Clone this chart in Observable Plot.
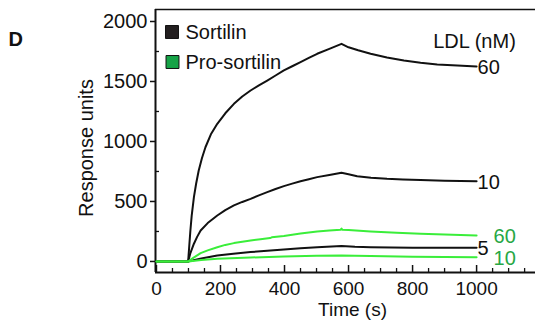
<!DOCTYPE html>
<html><head><meta charset="utf-8">
<script src="https://cdn.jsdelivr.net/npm/d3@7"></script>
<script src="https://cdn.jsdelivr.net/npm/@observablehq/plot@0.6"></script>
<style>body{margin:0;background:#fff}</style>
</head><body><div id="chart"></div>
<script>
// ---- data ----
const sortilin60T = [0, 99, 103, 106, 110, 117, 124, 132, 142, 153, 170, 190, 215, 242, 268, 294, 320, 346, 372, 398, 424, 450, 476, 502, 540, 578, 600, 630, 669, 720, 773, 825, 877, 940, 1000];
const sortilin60V = [0, 0, 150, 258, 380, 536, 650, 758, 860, 952, 1060, 1147, 1235, 1314, 1375, 1425, 1468, 1508, 1550, 1592, 1627, 1661, 1696, 1731, 1772, 1814, 1785, 1760, 1731, 1700, 1675, 1656, 1642, 1633, 1625];
const sortilin10T = [0, 99, 106, 117, 127, 138, 160, 190, 215, 242, 268, 294, 320, 346, 372, 398, 424, 450, 476, 502, 540, 578, 600, 627, 670, 720, 770, 825, 900, 1000];
const sortilin10V = [0, 0, 70, 148, 205, 258, 320, 383, 428, 467, 496, 522, 551, 578, 604, 628, 649, 669, 686, 703, 721, 739, 727, 711, 698, 689, 683, 678, 673, 668];
const sortilin5T = [0, 99, 140, 190, 240, 294, 346, 398, 450, 502, 578, 620, 669, 800, 1000];
const sortilin5V = [0, 0, 25, 50, 65, 78, 90, 100, 110, 119, 128, 122, 118, 115, 114];
const pro60T = [0, 99, 115, 138, 160, 190, 215, 242, 268, 294, 325, 355, 360, 398, 450, 502, 540, 575, 578, 581, 600, 669, 750, 825, 900, 1000];
const pro60V = [0, 0, 30, 69, 92, 119, 138, 153, 165, 175, 186, 195, 201, 213, 233, 250, 258, 264, 274, 264, 262, 250, 240, 231, 224, 217];
const pro10T = [0, 99, 140, 190, 294, 398, 500, 578, 620, 669, 800, 1000];
const pro10V = [0, 0, 12, 22, 33, 42, 47, 50, 47, 45, 40, 36];

const proteins = ["Sortilin", "Pro-sortilin"];
const series = [
  {protein: "Sortilin", ldl: "60", t: sortilin60T, v: sortilin60V},
  {protein: "Sortilin", ldl: "10", t: sortilin10T, v: sortilin10V},
  {protein: "Sortilin", ldl: "5", t: sortilin5T, v: sortilin5V},
  {protein: "Pro-sortilin", ldl: "60", t: pro60T, v: pro60V},
  {protein: "Pro-sortilin", ldl: "10", t: pro10T, v: pro10V}
];
const xMajor = [0, 200, 400, 600, 800, 1000];
const xMinor = d3.range(50, 1200, 50).filter(d => d % 200 !== 0);
const yMajor = [0, 500, 1000, 1500, 2000];
const yMinor = [250, 750, 1250, 1750];

// ---- build table ----
const rows = series.flatMap(s => s.t.map((t, i) => ({protein: s.protein, ldl: s.ldl, key: s.protein + s.ldl, t, v: s.v[i]})));
const ends = series.map(s => ({protein: s.protein, ldl: s.ldl, t: s.t[s.t.length - 1], v: s.v[s.v.length - 1]}));

const W = 535, H = 321, mL = 155, mR = 0, mT = 9, mB = 49;
const fw = W - mL - mR, fh = H - mT - mB;
const xDom = [-3, 1184], yDom = [-92, 2100];
const lineColor = {"Sortilin": "#111111", "Pro-sortilin": "#3aee3a"};
const labelColor = {"Sortilin": "#111111", "Pro-sortilin": "#27a745"};
const legendFill = {"Sortilin": "#231f20", "Pro-sortilin": "#16a347"};
const font = 20;

const chart = Plot.plot({
  width: W, height: H,
  marginLeft: mL, marginRight: mR, marginTop: mT, marginBottom: mB,
  style: {fontFamily: "'Liberation Sans', Arial, sans-serif", fontSize: font + "px", color: "#111", background: "#fff"},
  x: {domain: xDom},
  y: {domain: yDom},
  marks: [
    Plot.ruleY([yDom[0]], {stroke: "#111", strokeWidth: 2}),
    Plot.ruleY([yDom[1]], {stroke: "#111", strokeWidth: 1.6}),
    Plot.ruleX([xDom[0]], {stroke: "#111", strokeWidth: 2}),
    Plot.tickX(xMajor, {x: d => d, insetTop: fh - 7, stroke: "#111", strokeWidth: 1.5}),
    Plot.tickX(xMinor, {x: d => d, insetTop: fh - 4, stroke: "#111", strokeWidth: 1.3}),
    Plot.tickY(yMinor, {y: d => d, insetRight: fw - 4, stroke: "#111", strokeWidth: 1.3}),
    Plot.axisY({ticks: yMajor, tickSize: 5, tickPadding: 3, fontSize: font, label: null, tickFormat: d => String(d), strokeWidth: 1.5, color: "#111"}),
    Plot.axisX({ticks: xMajor, tickSize: 0, tickPadding: 8.5, fontSize: 19, label: null, tickFormat: d => String(d), color: "#111"}),
    Plot.line(rows, {x: "t", y: "v", z: "key", stroke: d => lineColor[d.protein], strokeWidth: 2}),
    Plot.text(ends.filter(d => d.protein === "Sortilin"), {x: "t", y: "v", text: "ldl", textAnchor: "start", dx: 1, dy: 1, fill: d => labelColor[d.protein], fontSize: font}),
    Plot.text(ends.filter(d => d.protein === "Pro-sortilin"), {x: "t", y: "v", text: "ldl", textAnchor: "start", dx: 17, dy: 1, fill: d => labelColor[d.protein], fontSize: font}),
    // legend
    Plot.dot([proteins[0]], {frameAnchor: "top-left", dx: 16.5, dy: 22.5, symbol: "square", r: 7.3, fill: d => legendFill[d], stroke: "#111", strokeWidth: 1}),
    Plot.dot([proteins[1]], {frameAnchor: "top-left", dx: 17, dy: 52.5, symbol: "square", r: 7.3, fill: d => legendFill[d], stroke: "#111", strokeWidth: 1}),
    Plot.text([proteins[0]], {frameAnchor: "top-left", dx: 30, dy: 22.6, text: d => d, textAnchor: "start", lineAnchor: "middle", fontSize: font, fill: "#111"}),
    Plot.text([proteins[1]], {frameAnchor: "top-left", dx: 30, dy: 52.6, text: d => d, textAnchor: "start", lineAnchor: "middle", fontSize: font, fill: "#111"}),
    Plot.text(["LDL (nM)"], {frameAnchor: "top-left", dx: 277.7, dy: 31.6, text: d => d, textAnchor: "start", lineAnchor: "middle", fontSize: font, fill: "#111"}),
    Plot.text(["D"], {frameAnchor: "top-left", dx: -147, dy: 29.6, text: d => d, textAnchor: "start", lineAnchor: "middle", fontSize: font, fontWeight: "bold", fill: "#111"}),
    Plot.text(["Response units"], {frameAnchor: "left", dx: -69.4, dy: 7, rotate: -90, text: d => d, textAnchor: "middle", lineAnchor: "middle", fontSize: font, fill: "#111"}),
    Plot.text(["Time (s)"], {frameAnchor: "bottom", dx: 7, dy: 37.9, text: d => d, textAnchor: "middle", lineAnchor: "middle", fontSize: 19, fill: "#111"})
  ]
});
document.getElementById("chart").appendChild(chart);
</script>
</body></html>
